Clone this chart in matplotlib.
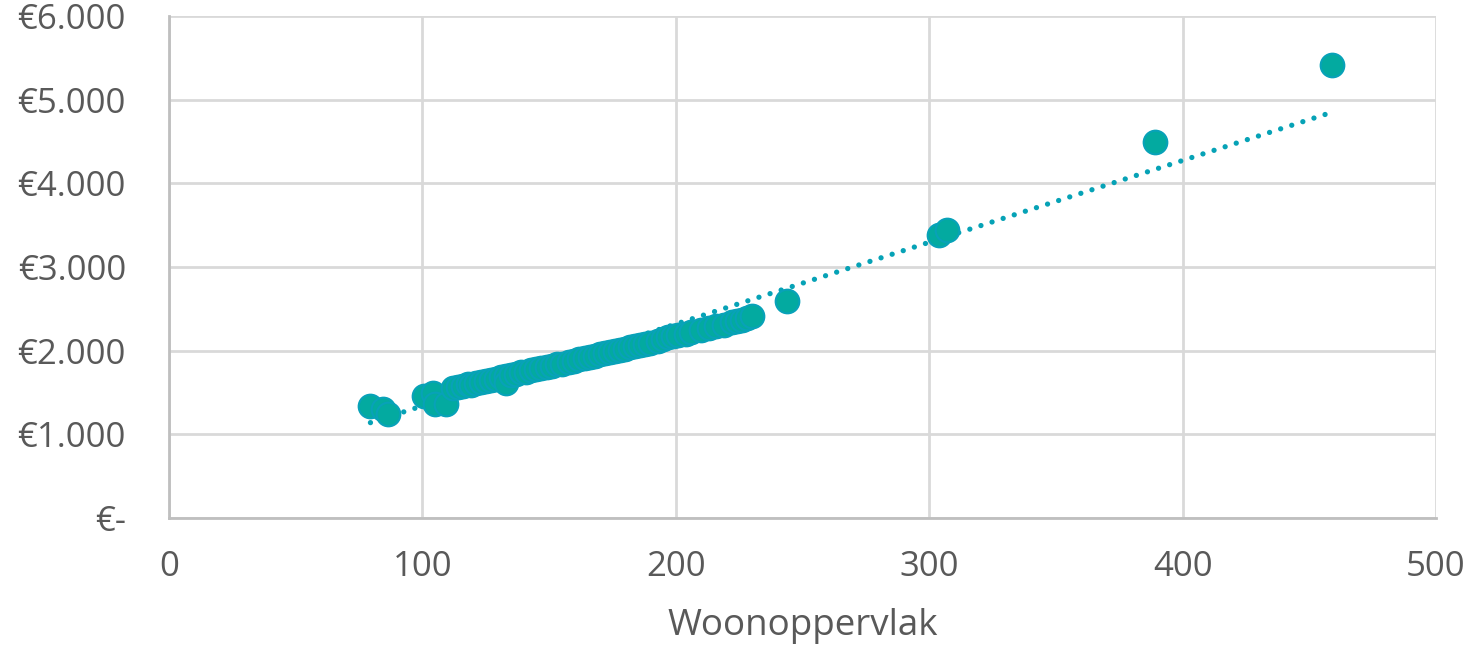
import matplotlib
matplotlib.use('Agg')
import matplotlib.pyplot as plt
from matplotlib.ticker import FuncFormatter
import numpy as np

# Woonoppervlak (m2) vs. maandbedrag (EUR)
opp = [79.5, 84.5, 86.5, 100.5, 104, 105, 109.5,
       112, 114, 116, 118, 119, 121, 123, 125, 127, 129, 131, 133, 133,
       135, 137, 139, 141, 143, 145, 147, 149, 151, 153, 155, 158, 160,
       162, 164, 166, 168, 170, 172, 174, 176, 178, 180, 182, 184, 186,
       188, 190, 193, 195, 197, 199, 201, 204, 206, 210, 213, 216, 219,
       222, 224, 226, 228, 230,
       244, 304, 307, 389, 459]
bedrag = [1335, 1300, 1240, 1460, 1490, 1360, 1360,
          1550, 1570, 1580, 1600, 1590, 1610, 1620, 1640, 1655, 1660, 1680,
          1700, 1617, 1710, 1720, 1740, 1750, 1765, 1780, 1790, 1805, 1820,
          1835, 1845, 1870, 1880, 1895, 1910, 1925, 1935, 1955, 1970, 1985,
          1995, 2010, 2025, 2040, 2050, 2065, 2080, 2095, 2120, 2140, 2160,
          2180, 2190, 2205, 2220, 2250, 2270, 2290, 2310, 2340, 2350, 2370,
          2390, 2410,
          2590, 3380, 3440, 4500, 5410]

# linear trendline as shown (start / end of the dotted line)
trend_x = [79.5, 459]
trend_y = [1140, 4850]

x_ticks = [0, 100, 200, 300, 400, 500]
y_ticks = [0, 1000, 2000, 3000, 4000, 5000, 6000]

plt.rcParams['font.family'] = ['Open Sans', 'DejaVu Sans']

fig = plt.figure(figsize=(14.68, 6.53), dpi=100)
ax = fig.add_axes([0.1151, 0.2067, 0.8631, 0.7688])

ax.plot(trend_x, trend_y, color='#06A2B6', linewidth=3.8,
        linestyle=(0, (0.01, 2.2)), dash_capstyle='round', zorder=2)

ax.scatter(opp, bedrag, s=290, facecolor='#03AAA0', edgecolor='#08A2B8',
           linewidth=1.5, zorder=3)

ax.set_xlim(0, 500)
ax.set_ylim(0, 6000)
ax.set_xticks(x_ticks)
ax.set_yticks(y_ticks)


def euro(v, pos):
    if v == 0:
        return '€-'
    return '€' + f'{int(v):,}'.replace(',', '.')


ax.yaxis.set_major_formatter(FuncFormatter(euro))
ax.grid(True, color='#D9D9D9', linewidth=2)
ax.set_axisbelow(True)
for side in ['top', 'right']:
    ax.spines[side].set_visible(False)
for side in ['left', 'bottom']:
    ax.spines[side].set_color('#BFBFBF')
    ax.spines[side].set_linewidth(2)
ax.tick_params(length=0, labelsize=25, colors='#595959')
ax.tick_params(axis='y', pad=31)
ax.tick_params(axis='x', pad=23)
ax.set_xlabel('Woonoppervlak', fontsize=26.5, color='#595959', labelpad=17)

fig.savefig('out.png', dpi=100)
